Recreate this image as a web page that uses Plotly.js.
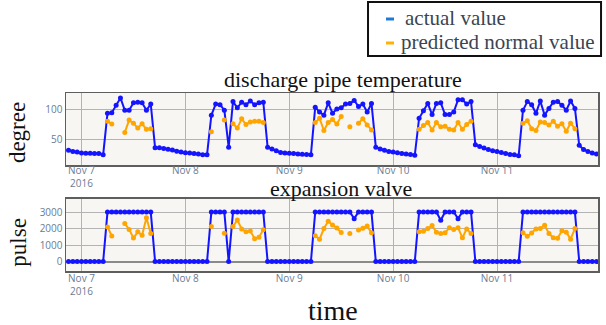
<!DOCTYPE html>
<html>
<head>
<meta charset="utf-8">
<script src="https://cdn.plot.ly/plotly-3.0.1.min.js"></script>
<style>
  html, body { margin: 0; padding: 0; background: #ffffff; }
  #chart { width: 606px; height: 325px; }
</style>
</head>
<body>
<div id="chart"></div>
<script>
// ---- data (hourly readings starting 2016-11-06 21:00) ----
var startTime = '2016-11-06T21:00:00Z';

var tempActual = [
  33, 31, 30, 28.5, 28, 28, 27.5, 27.5, 25.5,
  93, 94, 106, 118, 98, 98, 110, 111, 110, 98, 108,
  37, 37, 36, 34.5, 33.5, 31.5, 30, 29, 28.5, 27.5, 27, 25.5, 25.5,
  90, 108, 107, 98, 38, 112, 102, 111, 107, 113, 107, 110, 111,
  38, 35, 32, 29.5, 28.5, 28, 27.5, 27, 26.5, 26, 25.5,
  103, 95, 90, 110, 93, 100, 102, 108, 109, 114, 104, 108, 95, 109,
  38, 35, 33, 31, 30, 29, 27.5, 27, 26, 25,
  85, 97, 109, 91, 109, 110, 91, 91, 95, 115, 115, 108, 112,
  42, 39, 36.5, 34, 32, 31, 29.5, 27.5, 26, 25.5, 24,
  98, 112, 107, 93, 113, 90, 101, 111, 112, 106, 98, 113, 101,
  41, 34, 31, 28.5, 27, 26
];

var tempPredicted = [
  null, null, null, null, null, null, null, null, null,
  80, 75.5, null, null, 62, 82, 77, 69, 76, 67, 68,
  null, null, null, null, null, null, null, null, null, null, null, null, null,
  63, null, null, 82, null, 76, 69, 84, 75, 79, 80, 80, 78,
  null, null, null, null, null, null, null, null, null, null, null,
  78, 85, 65, 78, 83, 75.5, 88, null, 71, null, 77, 84, 74, 66,
  null, null, null, null, null, null, null, null, null, null,
  67, 73, 78, 66, 78, 71, 72, 67, 66, 78, 67, 75, 80,
  null, null, null, null, null, null, null, null, null, null, null,
  77, 81, 68, 65, 79, 78, 74, 80, 72, 76, 64, 77, 68,
  null, null, null, null, null, null
];

var pulseActual = [
  0, 0, 0, 0, 0, 0, 0, 0, 0,
  3000, 3000, 3000, 3000, 3000, 3000, 3000, 3000, 3000, 3000, 3000,
  0, 0, 0, 0, 0, 0, 0, 0, 0, 0, 0, 0, 0,
  3000, 3000, 3000, 3000, 0, 3000, 3000, 3000, 3000, 3000, 3000, 3000, 3000,
  0, 0, 0, 0, 0, 0, 0, 0, 0, 0, 0,
  3000, 3000, 3000, 3000, 3000, 3000, 3000, 3000, 3000, 2600, 3000, 3000, 3000, 3000,
  0, 0, 0, 0, 0, 0, 0, 0, 0, 0,
  3000, 3000, 3000, 3000, 3000, 2500, 3000, 3000, 3000, 2600, 3000, 3000, 3000,
  0, 0, 0, 0, 0, 0, 0, 0, 0, 0, 0,
  3000, 3000, 3000, 3000, 3000, 3000, 3000, 3000, 3000, 3000, 3000, 3000, 3000,
  0, 0, 0, 0, 0, 0
];

var pulsePredicted = [
  null, null, null, null, null, null, null, null, null,
  2100, 1550, null, null, 2300, 1950, 1430, 1800, 1600, 2650, 1700,
  null, null, null, null, null, null, null, null, null, null, null, null, null,
  2130, null, null, 1720, null, 2120, 2520, 1980, 1800, 1850, 1390, 1480, 1930,
  null, null, null, null, null, null, null, null, null, null, null,
  1560, 1350, 2000, 2440, 2220, 2030, 1760, null, 1700, null, 1920, 2020, 2150, 1750,
  null, null, null, null, null, null, null, null, null, null,
  1800, 1840, 2000, 2180, 1780, 1700, 1740, 2050, 1950, 2050, 1440, 1980, 1700,
  null, null, null, null, null, null, null, null, null, null, null,
  1750, 1530, 1730, 1980, 2000, 2200, 1700, 1440, 1420, 1870, 1780, 1360, 2000,
  null, null, null, null, null, null
];

var seriesNames = ['actual value', 'predicted normal value'];
var panelTitles = ['discharge pipe temperature', 'expansion valve'];
var axisTitles = ['degree', 'pulse', 'time'];
var xRange = ['2016-11-06 20:25', '2016-11-11 23:20'];
var tempRange = [9, 126];
var pulseRange = [-570, 3790];

// ---- build timestamps ----
function pad(n) { return (n < 10 ? '0' : '') + n; }
var t0 = Date.parse(startTime);
var times = tempActual.map(function (_, i) {
  var d = new Date(t0 + i * 3600000);
  return d.getUTCFullYear() + '-' + pad(d.getUTCMonth() + 1) + '-' + pad(d.getUTCDate()) +
    ' ' + pad(d.getUTCHours()) + ':00:00';
});

var BLUE = '#1414ff';
var ORANGE = '#ffa500';
var KEY_BLUE = '#1f7ad6';
var KEY_ORANGE = '#ffb300';
var SERIF = 'Liberation Serif';

function series(y, color, xa, ya, name) {
  return {
    x: times, y: y, xaxis: xa, yaxis: ya, type: 'scatter', mode: 'lines+markers', name: name,
    line: { color: color, width: 2 }, marker: { color: color, size: 5 },
    showlegend: false, connectgaps: false, hoverinfo: 'x+y'
  };
}

var data = [
  series(tempActual, BLUE, 'x', 'y', seriesNames[0]),
  series(tempPredicted, ORANGE, 'x', 'y', seriesNames[1]),
  series(pulseActual, BLUE, 'x2', 'y2', seriesNames[0]),
  series(pulsePredicted, ORANGE, 'x2', 'y2', seriesNames[1])
];

var tickFont = { family: 'Open Sans', size: 10, color: '#6b7b92' };
function xAxis(anchor, standoff) {
  return {
    type: 'date', range: xRange, anchor: anchor,
    tick0: '2016-11-07', dtick: 86400000, ticks: '', tickfont: tickFont,
    ticklabelstandoff: standoff,
    showgrid: true, gridcolor: '#b3b3b3', gridwidth: 1,
    showline: true, mirror: true, linecolor: '#5e5e5e', linewidth: 1.5, zeroline: false
  };
}
function yAxis(anchor, range, dtick, domain, zl) {
  return {
    range: range, dtick: dtick, anchor: anchor, domain: domain, ticks: '', tickfont: tickFont,
    showgrid: true, gridcolor: '#b3b3b3', gridwidth: 1,
    showline: true, mirror: true, linecolor: '#5e5e5e', linewidth: 1.5,
    zeroline: zl, zerolinecolor: '#8a8a8a', zerolinewidth: 2
  };
}

// key (legend) box drawn in paper coordinates
var keyFont = { family: SERIF, size: 21, color: '#3b4452' };
var titleFont = { family: SERIF, size: 22, color: '#111111' };
var shapes = [
  { type: 'rect', xref: 'paper', yref: 'paper', x0: 0.5677, x1: 1.0057, y0: 1.2079, y1: 1.5112,
    line: { color: '#111111', width: 2 }, fillcolor: '#ffffff', layer: 'above' },
  { type: 'line', xref: 'paper', yref: 'paper', x0: 0.6015, x1: 0.6165, y0: 1.4157, y1: 1.4157,
    line: { color: KEY_BLUE, width: 3 }, layer: 'above' },
  { type: 'line', xref: 'paper', yref: 'paper', x0: 0.6015, x1: 0.6165, y0: 1.2809, y1: 1.2809,
    line: { color: KEY_ORANGE, width: 3 }, layer: 'above' }
];

var layout = {
  width: 606, height: 325,
  font: { family: SERIF, size: 20, color: '#3b4452' },
  margin: { l: 66, r: 8, t: 93, b: 54, autoexpand: false },
  paper_bgcolor: '#ffffff', plot_bgcolor: '#f7f6f3',
  xaxis: xAxis('y', -5),
  xaxis2: xAxis('y2', -3),
  yaxis: yAxis('x', tempRange, 50, [0.5955, 1], false),
  yaxis2: yAxis('x2', pulseRange, 1000, [0, 0.4045], true),
  showlegend: false,
  shapes: shapes,
  annotations: [
    { text: seriesNames[0], xref: 'paper', yref: 'paper', x: 0.6335, y: 1.4219,
      xanchor: 'left', yanchor: 'middle', showarrow: false, font: keyFont },
    { text: seriesNames[1], xref: 'paper', yref: 'paper', x: 0.6260, y: 1.2854,
      xanchor: 'left', yanchor: 'middle', showarrow: false, font: keyFont },
    { text: panelTitles[0], xref: 'paper', yref: 'paper', x: 0.5207, y: 1.0753,
      xanchor: 'center', yanchor: 'middle', showarrow: false, font: titleFont },
    { text: panelTitles[1], xref: 'paper', yref: 'paper', x: 0.516, y: 0.4607,
      xanchor: 'center', yanchor: 'middle', showarrow: false, font: titleFont },
    { text: axisTitles[0], xref: 'paper', yref: 'paper', x: -0.092, y: 0.775,
      xanchor: 'center', yanchor: 'middle', textangle: -90, showarrow: false,
      font: { family: SERIF, size: 23, color: '#111111' } },
    { text: axisTitles[1], xref: 'paper', yref: 'paper', x: -0.090, y: 0.16,
      xanchor: 'center', yanchor: 'middle', textangle: -90, showarrow: false,
      font: { family: SERIF, size: 23, color: '#111111' } },
    { text: axisTitles[2], xref: 'paper', yref: 'paper', x: 0.502, y: -0.222,
      xanchor: 'center', yanchor: 'middle', showarrow: false,
      font: { family: SERIF, size: 28, color: '#111111' } }
  ]
};

Plotly.newPlot('chart', data, layout, { displayModeBar: false, staticPlot: true });
</script>
</body>
</html>
